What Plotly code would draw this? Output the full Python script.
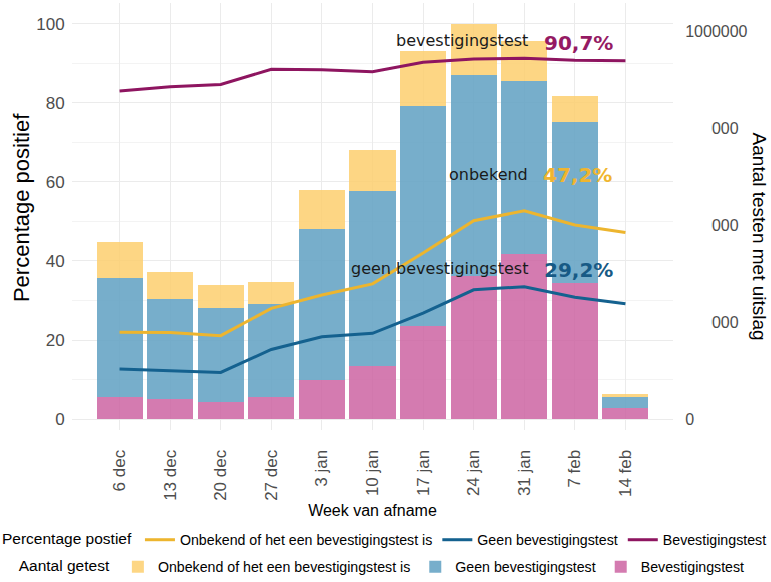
import plotly.graph_objects as go

weeks = ["6 dec", "13 dec", "20 dec", "27 dec", "3 jan", "10 jan",
         "17 jan", "24 jan", "31 jan", "7 feb", "14 feb"]

# Aantal getest (bars, right axis)
n_bevestiging = [57100, 51000, 44900, 56100, 100000, 137800, 239800, 369400, 426500, 352000, 27600]
n_geen = [307100, 258200, 242900, 239800, 391800, 451000, 568400, 519400, 446900, 414300, 30100]
n_onbekend = [92900, 71400, 59200, 58200, 99000, 106100, 142900, 131600, 103100, 68400, 6100]

# Percentage positief (lines, left axis)
pct_onbekend = [21.95, 21.9, 21.1, 28.0, 31.4, 34.2, 42.0, 50.2, 52.7, 49.1, 47.2]
pct_geen = [12.65, 12.2, 11.8, 17.6, 20.8, 21.7, 26.8, 32.7, 33.5, 30.8, 29.2]
pct_bevestiging = [83.0, 84.1, 84.7, 88.5, 88.4, 87.9, 90.3, 91.1, 91.3, 90.8, 90.7]

right_ticks = [0, 250000, 500000, 750000, 1000000]
left_ticks = [0, 20, 40, 60, 80, 100]

lbl_onbekend = "Onbekend of het een bevestigingstest is"
lbl_geen = "Geen bevestigingstest"
lbl_bev = "Bevestigingstest"

C_YEL_BAR = "rgba(253,207,110,0.85)"
C_BLU_BAR = "rgba(100,163,196,0.88)"
C_PNK_BAR = "rgba(205,100,162,0.85)"
C_YEL_LINE = "#EDB52E"
C_BLU_LINE = "#14618F"
C_PUR_LINE = "#8E1560"

fig = go.Figure()

# stacked bars (bottom to top)
fig.add_trace(go.Bar(x=weeks, y=n_bevestiging, name=lbl_bev, marker_color=C_PNK_BAR,
                     marker_line_width=0, yaxis="y", legend="legend2", legendrank=3))
fig.add_trace(go.Bar(x=weeks, y=n_geen, name=lbl_geen, marker_color=C_BLU_BAR,
                     marker_line_width=0, yaxis="y", legend="legend2", legendrank=2))
fig.add_trace(go.Bar(x=weeks, y=n_onbekend, name=lbl_onbekend, marker_color=C_YEL_BAR,
                     marker_line_width=0, yaxis="y", legend="legend2", legendrank=1))

# lines
fig.add_trace(go.Scatter(x=weeks, y=pct_onbekend, name=lbl_onbekend, mode="lines",
                         line=dict(color=C_YEL_LINE, width=3), yaxis="y2",
                         legend="legend", legendrank=1))
fig.add_trace(go.Scatter(x=weeks, y=pct_geen, name=lbl_geen, mode="lines",
                         line=dict(color=C_BLU_LINE, width=3), yaxis="y2",
                         legend="legend", legendrank=2))
fig.add_trace(go.Scatter(x=weeks, y=pct_bevestiging, name=lbl_bev, mode="lines",
                         line=dict(color=C_PUR_LINE, width=3), yaxis="y2",
                         legend="legend", legendrank=3))

TICKFONT = dict(family="Liberation Sans, Arial, sans-serif", size=17, color="#4D4D4D")
ANN_FONT = "DejaVu Sans, Verdana, sans-serif"

fig.update_layout(
    width=771, height=582,
    margin=dict(l=72, r=98, t=3, b=152, autoexpand=False),
    paper_bgcolor="white", plot_bgcolor="white",
    barmode="stack", bargap=0.09,
    font=dict(family="Liberation Sans, Arial, sans-serif", color="black"),
    xaxis=dict(
        type="category", categoryorder="array", categoryarray=weeks,
        range=[-0.94, 10.94], tickangle=-90, tickfont=TICKFONT,
        showgrid=True, gridcolor="#EBEBEB", gridwidth=1.2,
        ticks="outside", ticklen=12, tickcolor="rgba(0,0,0,0)",
        showline=False, zeroline=False,
        title=dict(text="Week van afname", standoff=4,
                   font=dict(size=16, color="black")),
    ),
    yaxis=dict(
        side="right", range=[-28400, 1074500], tickvals=right_ticks,
        ticktext=[str(v) for v in right_ticks],
        tickfont=dict(family="Liberation Sans, Arial, sans-serif", size=16, color="#4D4D4D"),
        showgrid=False, zeroline=False, showline=False,
        ticks="outside", ticklen=8, tickcolor="rgba(0,0,0,0)",
    ),
    yaxis2=dict(
        side="left", overlaying="y", range=[-2.78, 105.3], tickvals=left_ticks,
        tickfont=dict(family="Liberation Sans, Arial, sans-serif", size=17, color="#4D4D4D"),
        showgrid=True, gridcolor="#EBEBEB", gridwidth=1.2,
        minor=dict(dtick=10, showgrid=True, gridcolor="#F3F3F3", gridwidth=1),
        zeroline=False, showline=False,
        ticks="outside", ticklen=3, tickcolor="rgba(0,0,0,0)",
    ),
    legend=dict(
        orientation="h", x=-0.1198, xanchor="left", y=-0.2576, yanchor="middle",
        traceorder="normal", bgcolor="rgba(0,0,0,0)",
        font=dict(family="Liberation Sans, Arial, sans-serif", size=14.2, color="black"),
        title=dict(text="Percentage postief", side="left",
                   font=dict(size=15.5, color="black")),
        itemwidth=30,
    ),
    legend2=dict(
        orientation="h", x=-0.092, xanchor="left", y=-0.3208, yanchor="middle",
        traceorder="normal", bgcolor="rgba(0,0,0,0)",
        font=dict(family="Liberation Sans, Arial, sans-serif", size=14.2, color="black"),
        title=dict(text="Aantal getest", side="left",
                   font=dict(size=15.5, color="black")),
        itemwidth=30,
    ),
    showlegend=True,
)

annotations = [
    dict(x=8.11, y=95.9, text="bevestigingstest", xanchor="right",
         font=dict(family=ANN_FONT, size=16, color="#1a1a1a")),
    dict(x=8.35, y=95.2, text="<b>90,7%</b>", xanchor="left",
         font=dict(family=ANN_FONT, size=20, color="#951A63")),
    dict(x=8.11, y=61.8, text="onbekend", xanchor="right",
         font=dict(family=ANN_FONT, size=16, color="#1a1a1a")),
    dict(x=8.33, y=61.8, text="<b>47,2%</b>", xanchor="left",
         font=dict(family=ANN_FONT, size=20, color="#F0B52E")),
    dict(x=8.11, y=38.0, text="geen bevestigingstest", xanchor="right",
         font=dict(family=ANN_FONT, size=16, color="#1a1a1a")),
    dict(x=8.35, y=37.8, text="<b>29,2%</b>", xanchor="left",
         font=dict(family=ANN_FONT, size=20, color="#175A85")),
]
for a in annotations:
    a.update(xref="x", yref="y2", yanchor="middle", showarrow=False)
# axis titles
annotations.append(dict(
    xref="paper", yref="paper", x=-0.083, y=0.52, text="Percentage positief",
    textangle=-90, showarrow=False, xanchor="center", yanchor="middle",
    font=dict(family="Liberation Sans, Arial, sans-serif", size=22, color="black")))
annotations.append(dict(
    xref="paper", yref="paper", x=1.144, y=0.454, text="Aantal testen met uitslag",
    textangle=90, showarrow=False, xanchor="center", yanchor="middle",
    font=dict(family="Liberation Sans, Arial, sans-serif", size=19, color="black")))
fig.update_layout(annotations=annotations)

# white band that hides the start of the middle right-axis labels (as in the source image)
fig.add_shape(type="rect", xref="paper", yref="paper", x0=1.013, x1=1.064, y0=0.2, y1=0.77,
              fillcolor="white", line_width=0, layer="above")

fig.write_html("out.html", config={"displayModeBar": False},
               post_script="document.body.style.margin='0px';")
